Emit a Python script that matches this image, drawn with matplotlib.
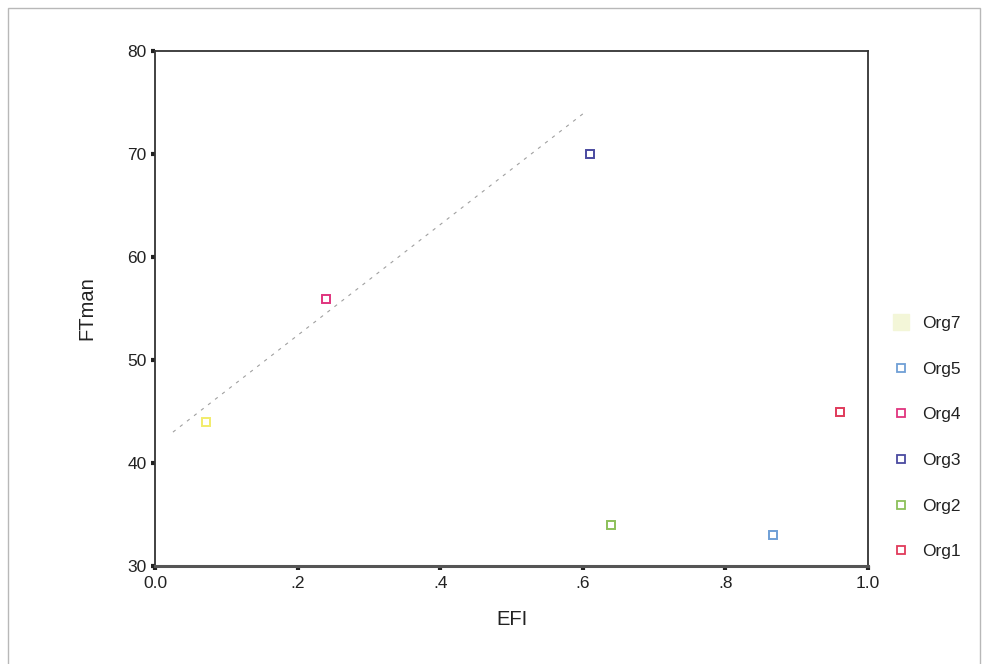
import matplotlib
matplotlib.use("Agg")
import matplotlib.pyplot as plt
from matplotlib.lines import Line2D
from matplotlib.patches import Rectangle

plt.rcParams['font.family'] = ['Liberation Sans', 'DejaVu Sans']

orgs = ["Org7", "Org5", "Org4", "Org3", "Org2", "Org1"]
efi = [0.071, 0.867, 0.24, 0.61, 0.64, 0.961]
ftman = [44.0, 33.0, 55.9, 70.0, 34.0, 45.0]
colors = ["#f2ec6a", "#6f9fd6", "#e0347e", "#4a4aa0", "#8cc05a", "#e03a5a"]

trend_x = [0.025, 0.60]
trend_y = [43.0, 73.9]

x_ticks = [0.0, 0.2, 0.4, 0.6, 0.8, 1.0]
x_tick_labels = ["0.0", ".2", ".4", ".6", ".8", "1.0"]
y_ticks = [30, 40, 50, 60, 70, 80]
y_tick_labels = ["30", "40", "50", "60", "70", "80"]

fig = plt.figure(figsize=(9.88, 6.64), dpi=100)
# outer frame
fig.patches.append(Rectangle((0.008, -0.01), 0.984, 0.998, transform=fig.transFigure,
                             fill=False, edgecolor="#b8b8b8", linewidth=1.0))

ax = fig.add_axes([0.157, 0.1476, 0.7215, 0.7755])
ax.set_xlim(0.0, 1.0)
ax.set_ylim(30, 80)

ax.plot(trend_x, trend_y, linestyle=(0, (3, 5)), color="#a0a0a0", linewidth=0.8, zorder=1)

for o, x, y, c in zip(orgs, efi, ftman, colors):
    ax.plot([x], [y], marker='s', markersize=6, markerfacecolor='none',
            markeredgecolor=c, markeredgewidth=1.4, linestyle='none', zorder=3)

for s in ax.spines.values():
    s.set_color("#333333")
    s.set_linewidth(1.3)
ax.spines['bottom'].set_color("#555555")
ax.spines['bottom'].set_linewidth(2.2)

ax.set_xticks(x_ticks)
ax.set_xticklabels(x_tick_labels)
ax.set_yticks(y_ticks)
ax.set_yticklabels(y_tick_labels)
ax.tick_params(axis='both', direction='out', length=3, width=3, color="#222222",
               labelsize=12.5, labelcolor="#222222")
ax.tick_params(axis='x', pad=4)
ax.tick_params(axis='y', pad=3)

ax.set_xlabel("EFI", fontsize=14.5, color="#222222", labelpad=14)
ax.set_ylabel("FTman", fontsize=14.5, color="#222222", labelpad=22)

handles = []
for o, c in zip(orgs, colors):
    if o == "Org7":
        h = Line2D([], [], marker='s', markersize=12, markerfacecolor="#f3f6d8",
                   markeredgecolor="#f3f6d8", linestyle='none')
    else:
        h = Line2D([], [], marker='s', markersize=6, markerfacecolor='none',
                   markeredgecolor=c, markeredgewidth=1.3, linestyle='none')
    handles.append(h)

leg = fig.legend(handles, orgs, loc='upper left', bbox_to_anchor=(0.886, 0.548),
                 frameon=False, fontsize=12.5, labelspacing=1.76, handletextpad=0.6,
                 handlelength=1.2)
for t in leg.get_texts():
    t.set_color("#222222")

fig.savefig("out.png", dpi=100)
